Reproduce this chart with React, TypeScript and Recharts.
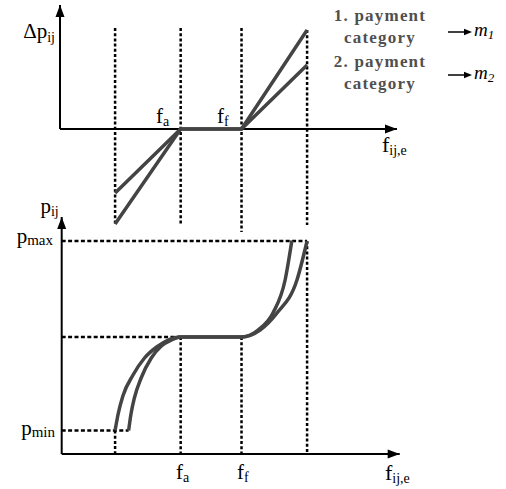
import React from 'react';
import { LineChart, Line, XAxis, YAxis, ReferenceLine, ReferenceDot, Legend } from 'recharts';

// ---------- data ----------
const fMarks = [1.63, 3.57, 5.37, 7.31]; // f_min, f_a, f_f, f_max
const guideTopHigh = [1.01, 1.01, 1.01, 0.99];
const guideTopLow = [-0.95, -0.95, -1.03, -0.96];

const deltaX = [1.63, 3.57, 5.37, 7.31];
const deltaCat1 = [-0.95, 0, 0, 0.99];
const deltaCat2 = [-0.64, 0, 0, 0.64];

const priceCat1X = [1.63, 1.72, 1.86, 2.16, 2.5, 2.86, 3.2, 3.57, 5.37, 5.86, 6.3, 6.66, 6.86];
const priceCat1Y = [0.235, 0.4, 0.58, 0.79, 0.96, 1.07, 1.14, 1.17, 1.17, 1.24, 1.41, 1.74, 2.135];
const priceCat2X = [2.03, 2.1, 2.2, 2.4, 2.7, 3.0, 3.3, 3.57, 5.37, 5.92, 6.42, 7.01, 7.31];
const priceCat2Y = [0.235, 0.4, 0.56, 0.76, 0.96, 1.08, 1.14, 1.17, 1.17, 1.24, 1.41, 1.74, 2.13];

const pLevelValues = [0.235, 1.17, 2.13]; // p_min, p(f_a..f_f), p_max
const pLevelEnds = [2.03, 3.57, 7.31];
const pGuideBottomTops = [0.235, 1.17, 1.17, 2.13];

const categoryNames = ['1. payment category', '2. payment category'];
const mSubs = ['1', '2'];

const zip = (xs: number[], ys: number[]) => xs.map((x, i) => ({ x, y: ys[i] }));

// ---------- styles ----------
const SERIF = "'Liberation Serif', 'Times New Roman', Times, serif";
const LINE = '#444444';
const W = 506;
const MARGIN_L = 60;
const MARGIN_R = 104.6;
const XDOM: [number, number] = [0, 10.1];

type LblOpts = {
  dx: number; dy: number; main: string; sub?: string; size: number; subSize?: number; subDy?: number;
  anchor?: 'start' | 'end';
};
const makeLbl = (o: LblOpts) => (p: any) => (
  <text
    x={p.cx + o.dx}
    y={p.cy + o.dy}
    style={{ fontFamily: SERIF, fontSize: o.size }}
    textAnchor={o.anchor || 'start'}
    fill="#000"
  >
    <tspan>{o.main}</tspan>
    {o.sub ? (
      <tspan style={{ fontSize: o.subSize || 14 }} dy={o.subDy ?? 3}>
        {o.sub}
      </tspan>
    ) : null}
  </text>
);

const arrowUp = (p: any) => (
  <polygon points={`${p.cx},${p.cy} ${p.cx - 4.5},${p.cy + 12} ${p.cx + 4.5},${p.cy + 12}`} fill="#000" />
);
const arrowRight = (p: any) => (
  <polygon points={`${p.cx},${p.cy} ${p.cx - 12},${p.cy - 4.5} ${p.cx - 12},${p.cy + 4.5}`} fill="#000" />
);

const legendText = { fontFamily: SERIF, fontWeight: 700, fontSize: 17, letterSpacing: 1.2 } as const;

const LegendBox = (props: any) => {
  const payload: any[] = props.payload || [];
  const textBase = [21, 66.5];
  const arrowY = [32, 75];
  return (
    <svg width={176} height={100} style={{ display: 'block', overflow: 'visible' }}>
      {payload.map((entry, i) => {
        const name = String(entry.value);
        const cut = name.lastIndexOf(' ');
        const l1 = name.slice(0, cut);
        const l2 = name.slice(cut + 1);
        return (
          <g key={name}>
            <text x={50} y={textBase[i]} textAnchor="middle" style={legendText} fill="#505050">{l1}</text>
            <text x={50} y={textBase[i] + 22} textAnchor="middle" style={legendText} fill="#505050">{l2}</text>
            <line x1={118} y1={arrowY[i]} x2={136} y2={arrowY[i]} stroke="#000" strokeWidth={1.5} />
            <polygon points={`142,${arrowY[i]} 134,${arrowY[i] - 3.2} 134,${arrowY[i] + 3.2}`} fill="#000" />
            <text x={144} y={arrowY[i] + 4} style={{ fontFamily: SERIF, fontStyle: 'italic', fontSize: 19 }} fill="#000">
              <tspan>m</tspan>
              <tspan style={{ fontSize: 13 }} dy={3}>{mSubs[i]}</tspan>
            </text>
          </g>
        );
      })}
    </svg>
  );
};

const dotted = { stroke: '#000', strokeWidth: 2.5, strokeDasharray: '3 2.2' };
const dashedH = { stroke: '#000', strokeWidth: 2.5, strokeDasharray: '4 2.4' };

const BOTTOM_TOP = 186;

export default function App() {
  return (
    <div style={{ position: 'absolute', left: 0, top: 0, width: W, height: 489, background: '#fff', fontFamily: SERIF }}>
      {/* ---------- top panel: Δp_ij ---------- */}
      <div style={{ position: 'absolute', left: 0, top: 0 }}>
        <LineChart width={W} height={240} margin={{ top: 5, left: MARGIN_L, right: MARGIN_R, bottom: 6 }}>
          <XAxis type="number" dataKey="x" domain={XDOM} hide allowDataOverflow />
          <YAxis type="number" dataKey="y" domain={[-1.05, 1.24]} hide allowDataOverflow />
          {fMarks.map((f, i) => (
            <ReferenceLine key={'tg' + i} segment={[{ x: f, y: guideTopHigh[i] }, { x: f, y: guideTopLow[i] }]} {...dotted} />
          ))}
          <ReferenceLine segment={[{ x: 0, y: 0 }, { x: 9.97, y: 0 }]} stroke="#000" strokeWidth={2} />
          <ReferenceLine segment={[{ x: 0, y: 0 }, { x: 0, y: 1.24 }]} stroke="#000" strokeWidth={2} />
          <ReferenceDot x={9.97} y={0} r={0} ifOverflow="visible" shape={arrowRight} />
          <ReferenceDot x={0} y={1.24} r={0} ifOverflow="visible" shape={arrowUp} />
          <Line data={zip(deltaX, deltaCat1)} dataKey="y" name={categoryNames[0]} stroke={LINE} strokeWidth={3.5}
            dot={false} activeDot={false} type="linear" isAnimationActive={false} />
          <Line data={zip(deltaX, deltaCat2)} dataKey="y" name={categoryNames[1]} stroke={LINE} strokeWidth={3.5}
            dot={false} activeDot={false} type="linear" isAnimationActive={false} />
          <ReferenceDot x={0} y={1.24} r={0} ifOverflow="visible"
            shape={makeLbl({ dx: -5, dy: 33, main: 'Δp', sub: 'ij', size: 21, subSize: 14, subDy: 4, anchor: 'end' })} />
          <ReferenceDot x={fMarks[1]} y={0} r={0} ifOverflow="visible"
            shape={makeLbl({ dx: -24.7, dy: -6, main: 'f', sub: 'a', size: 21, subSize: 14, subDy: 3 })} />
          <ReferenceDot x={fMarks[2]} y={0} r={0} ifOverflow="visible"
            shape={makeLbl({ dx: -24.5, dy: -6, main: 'f', sub: 'f', size: 21, subSize: 14, subDy: 3 })} />
          <ReferenceDot x={9.97} y={0} r={0} ifOverflow="visible"
            shape={makeLbl({ dx: -15, dy: 23, main: 'f', sub: 'ij,e', size: 22, subSize: 14, subDy: 3 })} />
          <Legend layout="vertical" align="center" verticalAlign="middle" content={LegendBox}
            wrapperStyle={{ position: 'absolute', left: 330, top: 0, width: 176, height: 100 }} />
        </LineChart>
      </div>

      {/* ---------- bottom panel: p_ij ---------- */}
      <div style={{ position: 'absolute', left: 0, top: BOTTOM_TOP }}>
        <LineChart width={W} height={489 - BOTTOM_TOP}
          margin={{ top: 214 - BOTTOM_TOP, left: MARGIN_L, right: MARGIN_R, bottom: 35 }}>
          <XAxis type="number" dataKey="x" domain={XDOM} hide allowDataOverflow />
          <YAxis type="number" dataKey="y" domain={[0, 2.4]} hide allowDataOverflow />
          {fMarks.map((f, i) => (
            <ReferenceLine key={'bg' + i} segment={[{ x: f, y: pGuideBottomTops[i] }, { x: f, y: 0 }]} {...dotted} />
          ))}
          {pLevelValues.map((p, i) => (
            <ReferenceLine key={'pl' + i} segment={[{ x: 0.05, y: p }, { x: pLevelEnds[i], y: p }]} {...dashedH} />
          ))}
          <ReferenceLine segment={[{ x: 0.05, y: 0 }, { x: 10.05, y: 0 }]} stroke="#000" strokeWidth={2} />
          <ReferenceLine segment={[{ x: 0.05, y: 0 }, { x: 0.05, y: 2.37 }]} stroke="#000" strokeWidth={2} />
          <ReferenceDot x={10.05} y={0} r={0} ifOverflow="visible" shape={arrowRight} />
          <ReferenceDot x={0.05} y={2.37} r={0} ifOverflow="visible" shape={arrowUp} />
          <Line data={zip(priceCat1X, priceCat1Y)} dataKey="y" name={categoryNames[0]} stroke={LINE} strokeWidth={3.5}
            dot={false} activeDot={false} type="monotone" isAnimationActive={false} />
          <Line data={zip(priceCat2X, priceCat2Y)} dataKey="y" name={categoryNames[1]} stroke={LINE} strokeWidth={3.5}
            dot={false} activeDot={false} type="monotone" isAnimationActive={false} />
          <ReferenceDot x={0.05} y={2.37} r={0} ifOverflow="visible"
            shape={makeLbl({ dx: -3, dy: -4, main: 'p', sub: 'ij', size: 21, subSize: 14, subDy: 3, anchor: 'end' })} />
          <ReferenceDot x={0.05} y={pLevelValues[2]} r={0} ifOverflow="visible"
            shape={makeLbl({ dx: -8.7, dy: 2, main: 'p', sub: 'max', size: 21, subSize: 15, subDy: 2, anchor: 'end' })} />
          <ReferenceDot x={0.05} y={pLevelValues[0]} r={0} ifOverflow="visible"
            shape={makeLbl({ dx: -6.7, dy: 4.5, main: 'p', sub: 'min', size: 21, subSize: 15, subDy: 2, anchor: 'end' })} />
          <ReferenceDot x={fMarks[1]} y={0} r={0} ifOverflow="visible"
            shape={makeLbl({ dx: -4.7, dy: 25, main: 'f', sub: 'a', size: 21, subSize: 14, subDy: 3 })} />
          <ReferenceDot x={fMarks[2]} y={0} r={0} ifOverflow="visible"
            shape={makeLbl({ dx: -4.5, dy: 25, main: 'f', sub: 'f', size: 21, subSize: 14, subDy: 3 })} />
          <ReferenceDot x={10.05} y={0} r={0} ifOverflow="visible"
            shape={makeLbl({ dx: -14.7, dy: 26, main: 'f', sub: 'ij,e', size: 22, subSize: 14, subDy: 3 })} />
        </LineChart>
      </div>
    </div>
  );
}
